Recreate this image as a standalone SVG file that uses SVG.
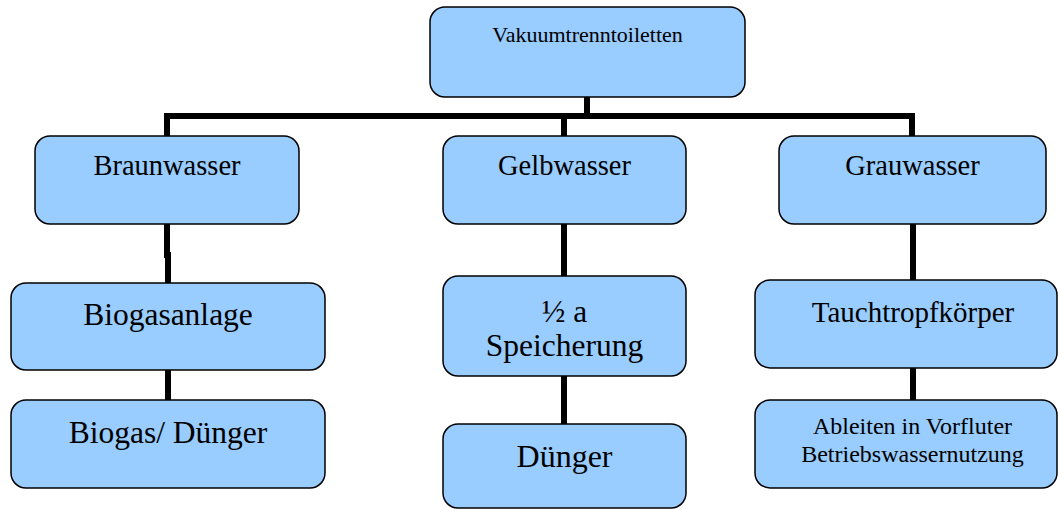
<svg xmlns="http://www.w3.org/2000/svg" width="1058" height="509" viewBox="0 0 1058 509">
<style>
.box{fill:#99CCFF;stroke:#000;stroke-width:1.5}
.c{fill:none;stroke:#000;stroke-width:6;stroke-linejoin:miter}
text{font-family:"Liberation Serif","Times New Roman",serif;fill:#000;text-anchor:middle}
</style>
<rect width="1058" height="509" fill="#fff"/>
<g id="connectors">
<path class="c" d="M587,97 V116"/>
<path class="c" d="M167,136 V116 H912 V136"/>
<path class="c" d="M564,116 V136"/>
<path class="c" d="M167,224 V255 H168 V283"/>
<path class="c" d="M168,370 V400"/>
<path class="c" d="M564,224 V276"/>
<path class="c" d="M564,376 V424"/>
<path class="c" d="M913,224 V280"/>
<path class="c" d="M913,368 V400"/>
</g>
<g id="n-vakuum">
<rect class="box" x="430" y="7" width="315" height="90" rx="15"/>
<text x="587.5" y="42" font-size="22">Vakuumtrenntoiletten</text>
</g>
<g id="n-braun">
<rect class="box" x="35" y="136" width="264" height="88" rx="15"/>
<text x="167" y="175" font-size="28.5">Braunwasser</text>
</g>
<g id="n-gelb">
<rect class="box" x="443" y="136" width="243" height="88" rx="15"/>
<text x="564.5" y="175" font-size="28.5">Gelbwasser</text>
</g>
<g id="n-grau">
<rect class="box" x="779" y="136" width="267" height="88" rx="15"/>
<text x="912.5" y="175" font-size="28.5">Grauwasser</text>
</g>
<g id="n-biogasanlage">
<rect class="box" x="11" y="283" width="314" height="87" rx="15"/>
<text x="168" y="325" font-size="31.5">Biogasanlage</text>
</g>
<g id="n-speicherung">
<rect class="box" x="443" y="276" width="243" height="100" rx="15"/>
<text x="564.5" y="322" font-size="31.5">½ a</text>
<text x="564.5" y="356" font-size="31.5">Speicherung</text>
</g>
<g id="n-tauch">
<rect class="box" x="755" y="280" width="302" height="88" rx="15"/>
<text x="913" y="322" font-size="29">Tauchtropfkörper</text>
</g>
<g id="n-biogas">
<rect class="box" x="11" y="400" width="314" height="88" rx="15"/>
<text x="168" y="443" font-size="31.5">Biogas/ Dünger</text>
</g>
<g id="n-duenger">
<rect class="box" x="443" y="424" width="243" height="84" rx="15"/>
<text x="564.5" y="467" font-size="32">Dünger</text>
</g>
<g id="n-ableiten">
<rect class="box" x="755" y="400" width="302" height="88" rx="15"/>
<text x="912.5" y="434" font-size="24">Ableiten in Vorfluter</text>
<text x="912.5" y="462" font-size="24">Betriebswassernutzung</text>
</g>
</svg>
